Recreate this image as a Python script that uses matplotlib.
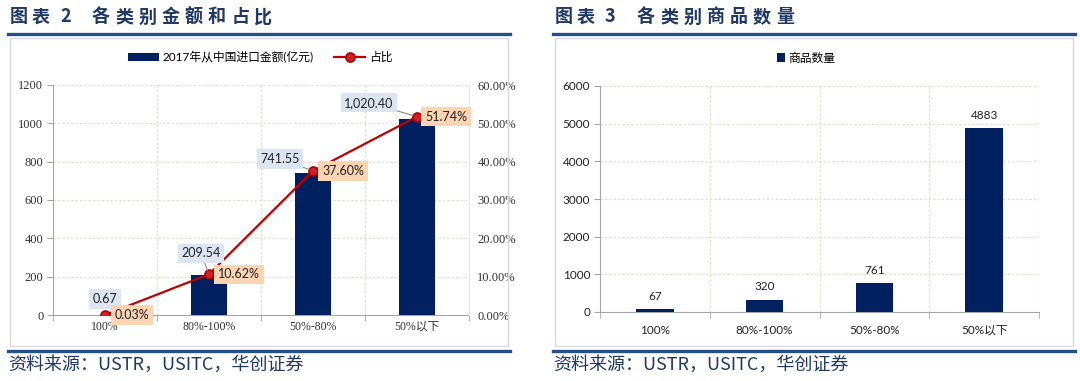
import matplotlib
matplotlib.use("Agg")
import matplotlib.pyplot as plt
from matplotlib.patches import Rectangle
from matplotlib.lines import Line2D
import numpy as np

# ---------------- data ----------------
categories = ["100%", "80%-100%", "50%-80%", "50%以下"]
import_value = [0.67, 209.54, 741.55, 1020.40]      # 2017年从中国进口金额(亿元)
share_pct = [0.03, 10.62, 37.60, 51.74]             # 占比 (%)
value_labels = ["0.67", "209.54", "741.55", "1,020.40"]
share_labels = ["0.03%", "10.62%", "37.60%", "51.74%"]
product_count = [67, 320, 761, 4883]                # 商品数量
left_yticks = [0, 200, 400, 600, 800, 1000, 1200]
right_pct_ticks = [0, 10, 20, 30, 40, 50, 60]
count_ticks = [0, 1000, 2000, 3000, 4000, 5000, 6000]

W, H = 1080, 381
fig = plt.figure(figsize=(W / 100, H / 100), dpi=100)
fig.patch.set_facecolor("white")

CJK = ["Noto Sans CJK SC", "DejaVu Sans"]
SERIF = ["Liberation Serif", "Noto Sans CJK SC"]
SANS = ["Lato", "Noto Sans CJK SC"]
NAVY = "#002060"
TITLE_C = "#1F3864"
RULE_C = "#24508A"
GRID_C = "#E3E0D3"
AX_C = "#A6A6A6"


def fx(x):
    return x / W


def fy(y):
    return 1 - y / H


def add_axes_px(x0, y0, x1, y1):
    return fig.add_axes([fx(x0), fy(y1), (x1 - x0) / W, (y1 - y0) / H])


# ---------------- panel decorations ----------------
def spaced_title(x0, num, name):
    # "图表 N   name" with wide character spacing as in the reference
    kw = dict(family=CJK, fontsize=13, fontweight="bold", color=TITLE_C,
              va="center", ha="left")
    fig.text(fx(x0), fy(17), "图", **kw)
    fig.text(fx(x0 + 22), fy(17), "表", **kw)
    fig.text(fx(x0 + 50), fy(17), num, **kw)
    for k, ch in enumerate(name):
        fig.text(fx(x0 + 82 + 23.2 * k), fy(17), ch, **kw)


def panel_frame(x0, x1, num, name):
    spaced_title(x0, num, name)
    fig.add_artist(Line2D([fx(x0 - 2), fx(x1 + 2)], [fy(34), fy(34)], color=RULE_C, lw=2.4))
    fig.add_artist(Rectangle((fx(x0), fy(346)), (x1 - x0) / W, (346 - 38) / H,
                             transform=fig.transFigure, fill=False, ec="#D9D9D9", lw=1))
    fig.add_artist(Line2D([fx(x0 - 2), fx(x1 + 2)], [fy(351), fy(351)], color=RULE_C, lw=2.4))
    fig.text(fx(x0 - 2), fy(365), "资料来源：USTR，USITC，华创证券", family=CJK, fontsize=13,
             color=TITLE_C, va="center", ha="left", style="italic")


panel_frame(10, 508, "2", "各类别金额和占比")
panel_frame(555, 1073, "3", "各类别商品数量")

x = np.arange(len(categories))

# ---------------- left chart ----------------
ax = add_axes_px(53, 85, 469, 315)
bars = ax.bar(x, import_value, width=0.34, color=NAVY, zorder=3,
              label="2017年从中国进口金额(亿元)")
ax.set_xlim(-0.5, 3.5)
ax.set_ylim(0, 1200)
ax.set_yticks(left_yticks)
ax.set_yticklabels([str(v) for v in left_yticks], family=SERIF, fontsize=9, color="#333333")
ax.set_xticks(x)
ax.set_xticklabels(categories, family=SERIF, fontsize=8.5, color="#333333")
ax.set_xticks([0.5, 1.5, 2.5, 3.5, -0.5], minor=True)
ax.tick_params(axis="x", which="major", length=0, pad=4)
ax.tick_params(axis="x", which="minor", length=4, color=AX_C, direction="out")
ax.tick_params(axis="y", length=4, color=AX_C, pad=3)
for v in left_yticks[1:]:
    ax.axhline(v, color=GRID_C, lw=0.9, ls=(0, (2, 1.5)), zorder=0)
for b in [0.5, 1.5, 2.5, 3.5]:
    ax.axvline(b, color=GRID_C, lw=0.9, ls=(0, (2, 1.5)), zorder=0)
for s in ["top", "right"]:
    ax.spines[s].set_visible(False)
ax.spines["left"].set_color(AX_C)
ax.spines["bottom"].set_color(AX_C)

ax2 = ax.twinx()
line, = ax2.plot(x, share_pct, color="#C00000", lw=1.6, marker="o", ms=6.5,
                 mfc="#D0202A", mec="#B00000", mew=1.2, zorder=5, label="占比")
ax2.set_ylim(0, 60)
ax2.set_yticks(right_pct_ticks)
ax2.set_yticklabels([f"{v:.2f}%" for v in right_pct_ticks], family=SERIF, fontsize=9, color="#333333")
ax2.tick_params(axis="y", length=0, pad=6)
for s in ["top", "left", "bottom"]:
    ax2.spines[s].set_visible(False)
ax2.spines["right"].set_color("#E8E8E8")

val_offsets = [(0, 16), (-8, 21), (-33, 12), (-48, 14)]
pct_offsets = [(27, 0), (30, 0), (30, 0), (29, 0)]
for i in range(len(categories)):
    arrow = None
    if i > 0:
        arrow = dict(arrowstyle="-", color="#8C8C8C", lw=0.8, shrinkA=0, shrinkB=3)
    ax2.annotate(value_labels[i], xy=(x[i], share_pct[i]), xytext=val_offsets[i],
                 textcoords="offset pixels", ha="center", va="center",
                 family=SANS, fontsize=9, color="#222222", zorder=6,
                 bbox=dict(boxstyle="square,pad=0.3", fc="#DCE6F2", ec="none"),
                 arrowprops=arrow)
    ax2.annotate(share_labels[i], xy=(x[i], share_pct[i]), xytext=pct_offsets[i],
                 textcoords="offset pixels", ha="center", va="center",
                 family=SANS, fontsize=9, color="#222222", zorder=6,
                 bbox=dict(boxstyle="square,pad=0.3", fc="#FBD4B4", ec="none"))

fig.legend(handles=[bars, line], labels=["2017年从中国进口金额(亿元)", "占比"],
           loc="center", bbox_to_anchor=(fx(260), fy(57)), ncol=2, frameon=False,
           prop=dict(family=SANS, size=8.5), handlelength=2.6, handleheight=0.6,
           columnspacing=1.8, handletextpad=0.3)

# ---------------- right chart ----------------
bx = add_axes_px(600, 86, 1039, 312)
bars2 = bx.bar(x, product_count, width=0.34, color=NAVY, zorder=3, label="商品数量")
bx.set_xlim(-0.5, 3.5)
bx.set_ylim(0, 6000)
bx.set_yticks(count_ticks)
bx.set_yticklabels([str(v) for v in count_ticks], family=SANS, fontsize=8.5, color="#222222")
bx.set_xticks(x)
bx.set_xticklabels(categories, family=SANS, fontsize=8.5, color="#222222")
bx.set_xticks([-0.5, 0.5, 1.5, 2.5, 3.5], minor=True)
bx.tick_params(axis="x", which="major", length=0, pad=9)
bx.tick_params(axis="x", which="minor", length=4, color=AX_C, direction="out")
bx.tick_params(axis="y", length=4, color=AX_C, pad=3)
for v in count_ticks[1:]:
    bx.axhline(v, color=GRID_C, lw=0.9, ls=(0, (2, 1.5)), zorder=0)
for b in [0.5, 1.5, 2.5, 3.5]:
    bx.axvline(b, color=GRID_C, lw=0.9, ls=(0, (2, 1.5)), zorder=0)
for s in ["top", "right"]:
    bx.spines[s].set_visible(False)
bx.spines["left"].set_color(AX_C)
bx.spines["bottom"].set_color(AX_C)
for i, v in enumerate(product_count):
    bx.annotate(str(v), xy=(x[i], v), xytext=(0, 13), textcoords="offset pixels",
                ha="center", va="center", family=SANS, fontsize=8.5, color="#222222")

fig.legend(handles=[bars2], labels=["商品数量"], loc="center",
           bbox_to_anchor=(fx(806), fy(58)), frameon=False,
           prop=dict(family=["Noto Sans CJK SC"], size=8.5), handlelength=0.7,
           handleheight=0.7, handletextpad=0.2)

fig.savefig("out.png", dpi=100, facecolor="white")
